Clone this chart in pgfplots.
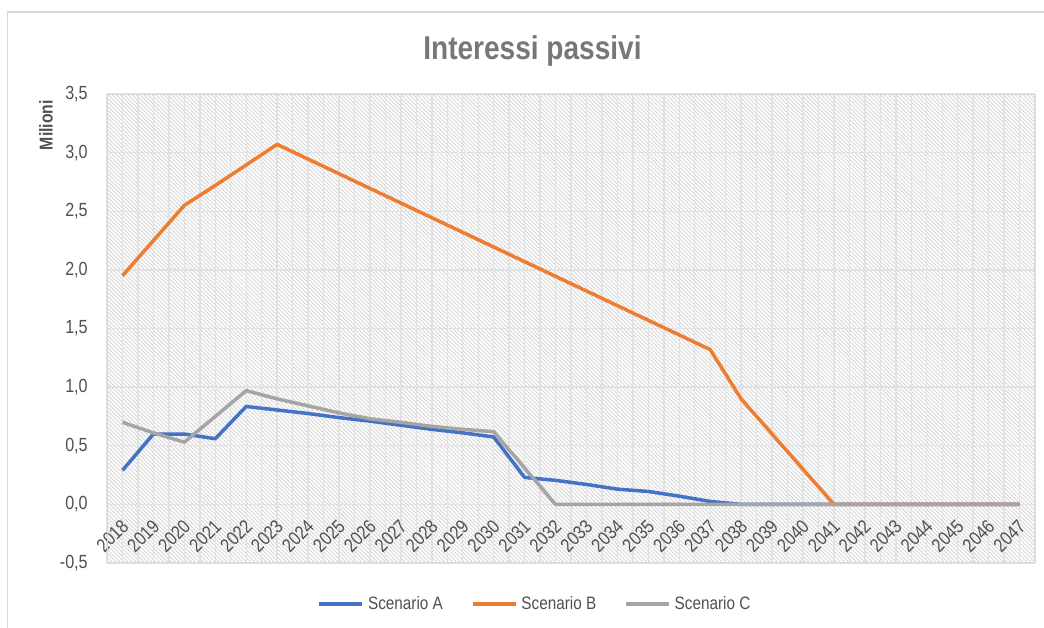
\documentclass[border=0pt]{standalone}
\usepackage{fontspec}
\setmainfont{Liberation Sans}[FakeStretch=0.85]
\usepackage{pgfplots}
\pgfplotsset{compat=1.18}
\usetikzlibrary{patterns.meta}

\definecolor{serA}{HTML}{4472C4}
\definecolor{serB}{HTML}{ED7D31}
\definecolor{serC}{HTML}{A5A5A5}
\definecolor{txt}{HTML}{505050}
\definecolor{ttl}{HTML}{777777}
\definecolor{gridc}{HTML}{E2E2E2}
\definecolor{hatch}{HTML}{D6D6D6}
\definecolor{frame}{HTML}{D9D9D9}

\begin{document}
\begin{tikzpicture}
  \path[use as bounding box] (-53.5bp,-32.5bp) rectangle (468.5bp,281.5bp);
  % chart area border (cut at right and bottom)
  \draw[frame, line width=0.8bp] (-49.75bp,-32.5bp) -- (-49.75bp,275.5bp) -- (468.5bp,275.5bp);
  \node[anchor=base, text=ttl, font=\bfseries\fontsize{16.5bp}{19bp}\selectfont, inner sep=0pt]
    at (212.75bp,251.5bp) {Interessi passivi};
  \node[rotate=90, text=txt, font=\bfseries\fontsize{9.3bp}{11bp}\selectfont, inner sep=0pt]
    at (-30.5bp,219bp) {Milioni};

  \begin{axis}[
      at={(0,0)}, anchor=south west,
      scale only axis, width=464bp, height=234.5bp,
      xmin=-0.5, xmax=29.5, ymin=-0.5, ymax=3.5,
      axis x line=middle, axis y line=left,
      axis line style={-, draw=gridc, line width=0.7bp},
      hide obscured x ticks=false, hide obscured y ticks=false,
      axis background/.style={pattern={Lines[angle=-45,distance=1.4bp,line width=0.45bp]}, pattern color=hatch},
      xtick={0,...,29},
      minor xtick={-0.5,0.5,...,29.5},
      xticklabels={2018,2019,2020,2021,2022,2023,2024,2025,2026,2027,2028,2029,2030,2031,2032,
                   2033,2034,2035,2036,2037,2038,2039,2040,2041,2042,2043,2044,2045,2046,2047},
      ytick={-0.5,0,0.5,1,1.5,2,2.5,3,3.5},
      grid=both,
      major grid style={draw=gridc, line width=0.7bp},
      minor grid style={draw=gridc, line width=0.7bp},
      tick style={draw=none},
      minor tick style={draw=none},
      /pgf/number format/.cd, fixed, fixed zerofill, precision=1, use comma, assume math mode=true,
      /pgfplots/.cd,
      xticklabel style={xshift=2.5bp, rotate=45, anchor=east, inner sep=1.5bp, text=txt,
                        font=\fontsize{9.5bp}{10bp}\selectfont},
      xticklabel shift=6bp,
      yticklabel style={text=txt, font=\fontsize{9.5bp}{10bp}\selectfont},
      yticklabel shift=4bp,
      legend columns=3,
      legend style={at={(axis description cs:0.4623,-0.0874)}, anchor=center, draw=none, fill=none,
                    font=\fontsize{9bp}{10bp}\selectfont, text=txt,
                    /tikz/every even column/.append style={column sep=12bp}},
      legend image code/.code={\draw[#1] (0bp,0bp) -- (21.5bp,0bp);},
    ]
    \draw[frame, line width=0.7bp] (rel axis cs:0,0) rectangle (rel axis cs:1,1);

    \addplot[serA, line width=1.75bp, line join=round, mark=none] coordinates {
      (0,0.29) (1,0.60) (2,0.60) (3,0.56) (4,0.835) (5,0.805) (6,0.775) (7,0.74)
      (8,0.71) (9,0.675) (10,0.64) (11,0.61) (12,0.575) (13,0.23) (14,0.205) (15,0.17)
      (16,0.13) (17,0.11) (18,0.07) (19,0.025) (20,0) (21,0) (22,0) (23,0) (24,0)
      (25,0) (26,0) (27,0) (28,0) (29,0)
    };
    \addlegendentry{Scenario A}
    \addplot[serB, line width=1.75bp, line join=round, mark=none] coordinates {
      (0,1.95) (1,2.25) (2,2.55) (3,2.72) (4,2.895) (5,3.07) (6,2.945) (7,2.82)
      (8,2.695) (9,2.57) (10,2.445) (11,2.32) (12,2.195) (13,2.07) (14,1.945) (15,1.82)
      (16,1.695) (17,1.57) (18,1.445) (19,1.32) (20,0.90) (21,0.60) (22,0.30) (23,0)
      (24,0) (25,0) (26,0) (27,0) (28,0) (29,0)
    };
    \addlegendentry{Scenario B}
    \addplot[serC, line width=1.75bp, line join=round, mark=none] coordinates {
      (0,0.70) (1,0.61) (2,0.53) (3,0.75) (4,0.97) (5,0.90) (6,0.84) (7,0.78)
      (8,0.73) (9,0.70) (10,0.665) (11,0.64) (12,0.62) (13,0.31) (14,0) (15,0)
      (16,0) (17,0) (18,0) (19,0) (20,0) (21,0) (22,0) (23,0) (24,0)
      (25,0) (26,0) (27,0) (28,0) (29,0)
    };
    \addlegendentry{Scenario C}
  \end{axis}
\end{tikzpicture}
\end{document}
